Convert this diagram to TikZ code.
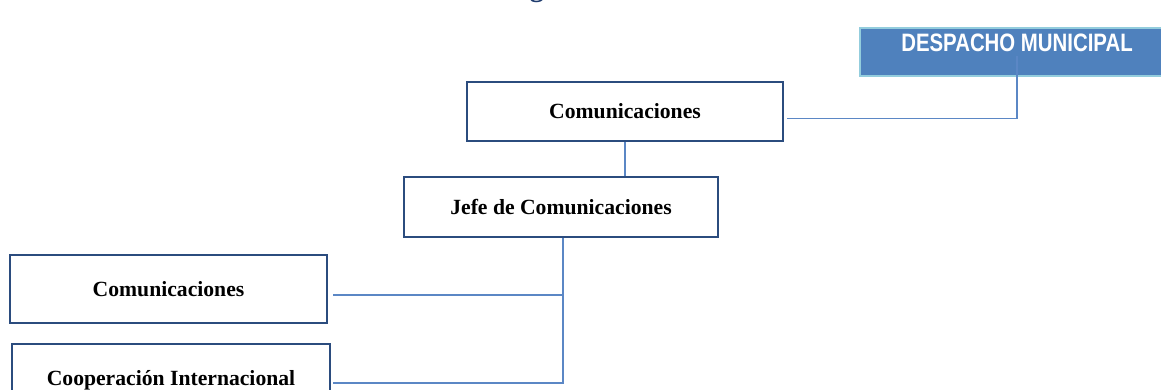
\documentclass[tikz,border=0pt]{standalone}
\usepackage{fontspec}
\setmainfont{Liberation Serif}
\newfontfamily\despfont[FakeStretch=0.81]{Liberation Sans}
\usetikzlibrary{positioning}
\definecolor{boxline}{HTML}{2B4C7E}
\definecolor{connline}{HTML}{5B87C5}
\definecolor{despfill}{HTML}{4F81BD}
\definecolor{despline}{HTML}{93CDDD}
\definecolor{titleblue}{HTML}{1F3C6E}

\begin{document}
\begin{tikzpicture}[x=0.025cm, y=-0.025cm,
                unit/.style={draw=boxline, line width=1.5pt, fill=white, inner sep=0pt,
                        font=\fontsize{15.4}{18}\selectfont\bfseries},
                conn/.style={draw=connline, line width=0.8pt}]
                \clip (0,0) rectangle (1161,389);

                \node[anchor=base, inner sep=0pt, text=titleblue,
                        font=\fontsize{20}{24}\selectfont\bfseries] (title) at (537,-3.5) {g};

                \node[draw=despline, fill=despfill, line width=1.5pt,
                        minimum width=7.85cm, minimum height=1.2cm] (desp) at (1017,52) {};
                \node[text=white, inner sep=0pt, font=\despfont\fontsize{17.9}{20}\selectfont\bfseries]
                        (despt) at (1017,43) {DESPACHO MUNICIPAL};

                \node[unit, minimum width=7.9cm, minimum height=1.475cm] (com) at (625,111.5) {Comunicaciones};
                \node[unit, minimum width=7.85cm, minimum height=1.5cm] (jefe) at (561,207) {Jefe de Comunicaciones};
                \node[unit, minimum width=7.925cm, minimum height=1.7cm] (comb) at (168.5,289) {Comunicaciones};
                \node[unit, minimum width=7.95cm, minimum height=1.8cm] (coop) at (171,380) {Cooperación Internacional};

                \draw[conn] ([xshift=2.1pt, yshift=-5pt]com.east) -| ([yshift=-2.8pt]despt.south);
                \draw[conn] (com.south) -- (com.south |- jefe.north);
                \draw[conn] ([xshift=1.4pt]jefe.south) |- ([xshift=3.6pt, yshift=-4.3pt]comb.east);
                \draw[conn] ([xshift=1.4pt]jefe.south) |- ([xshift=1.4pt, yshift=-2.1pt]coop.east);
            \end{tikzpicture}
\end{document}
